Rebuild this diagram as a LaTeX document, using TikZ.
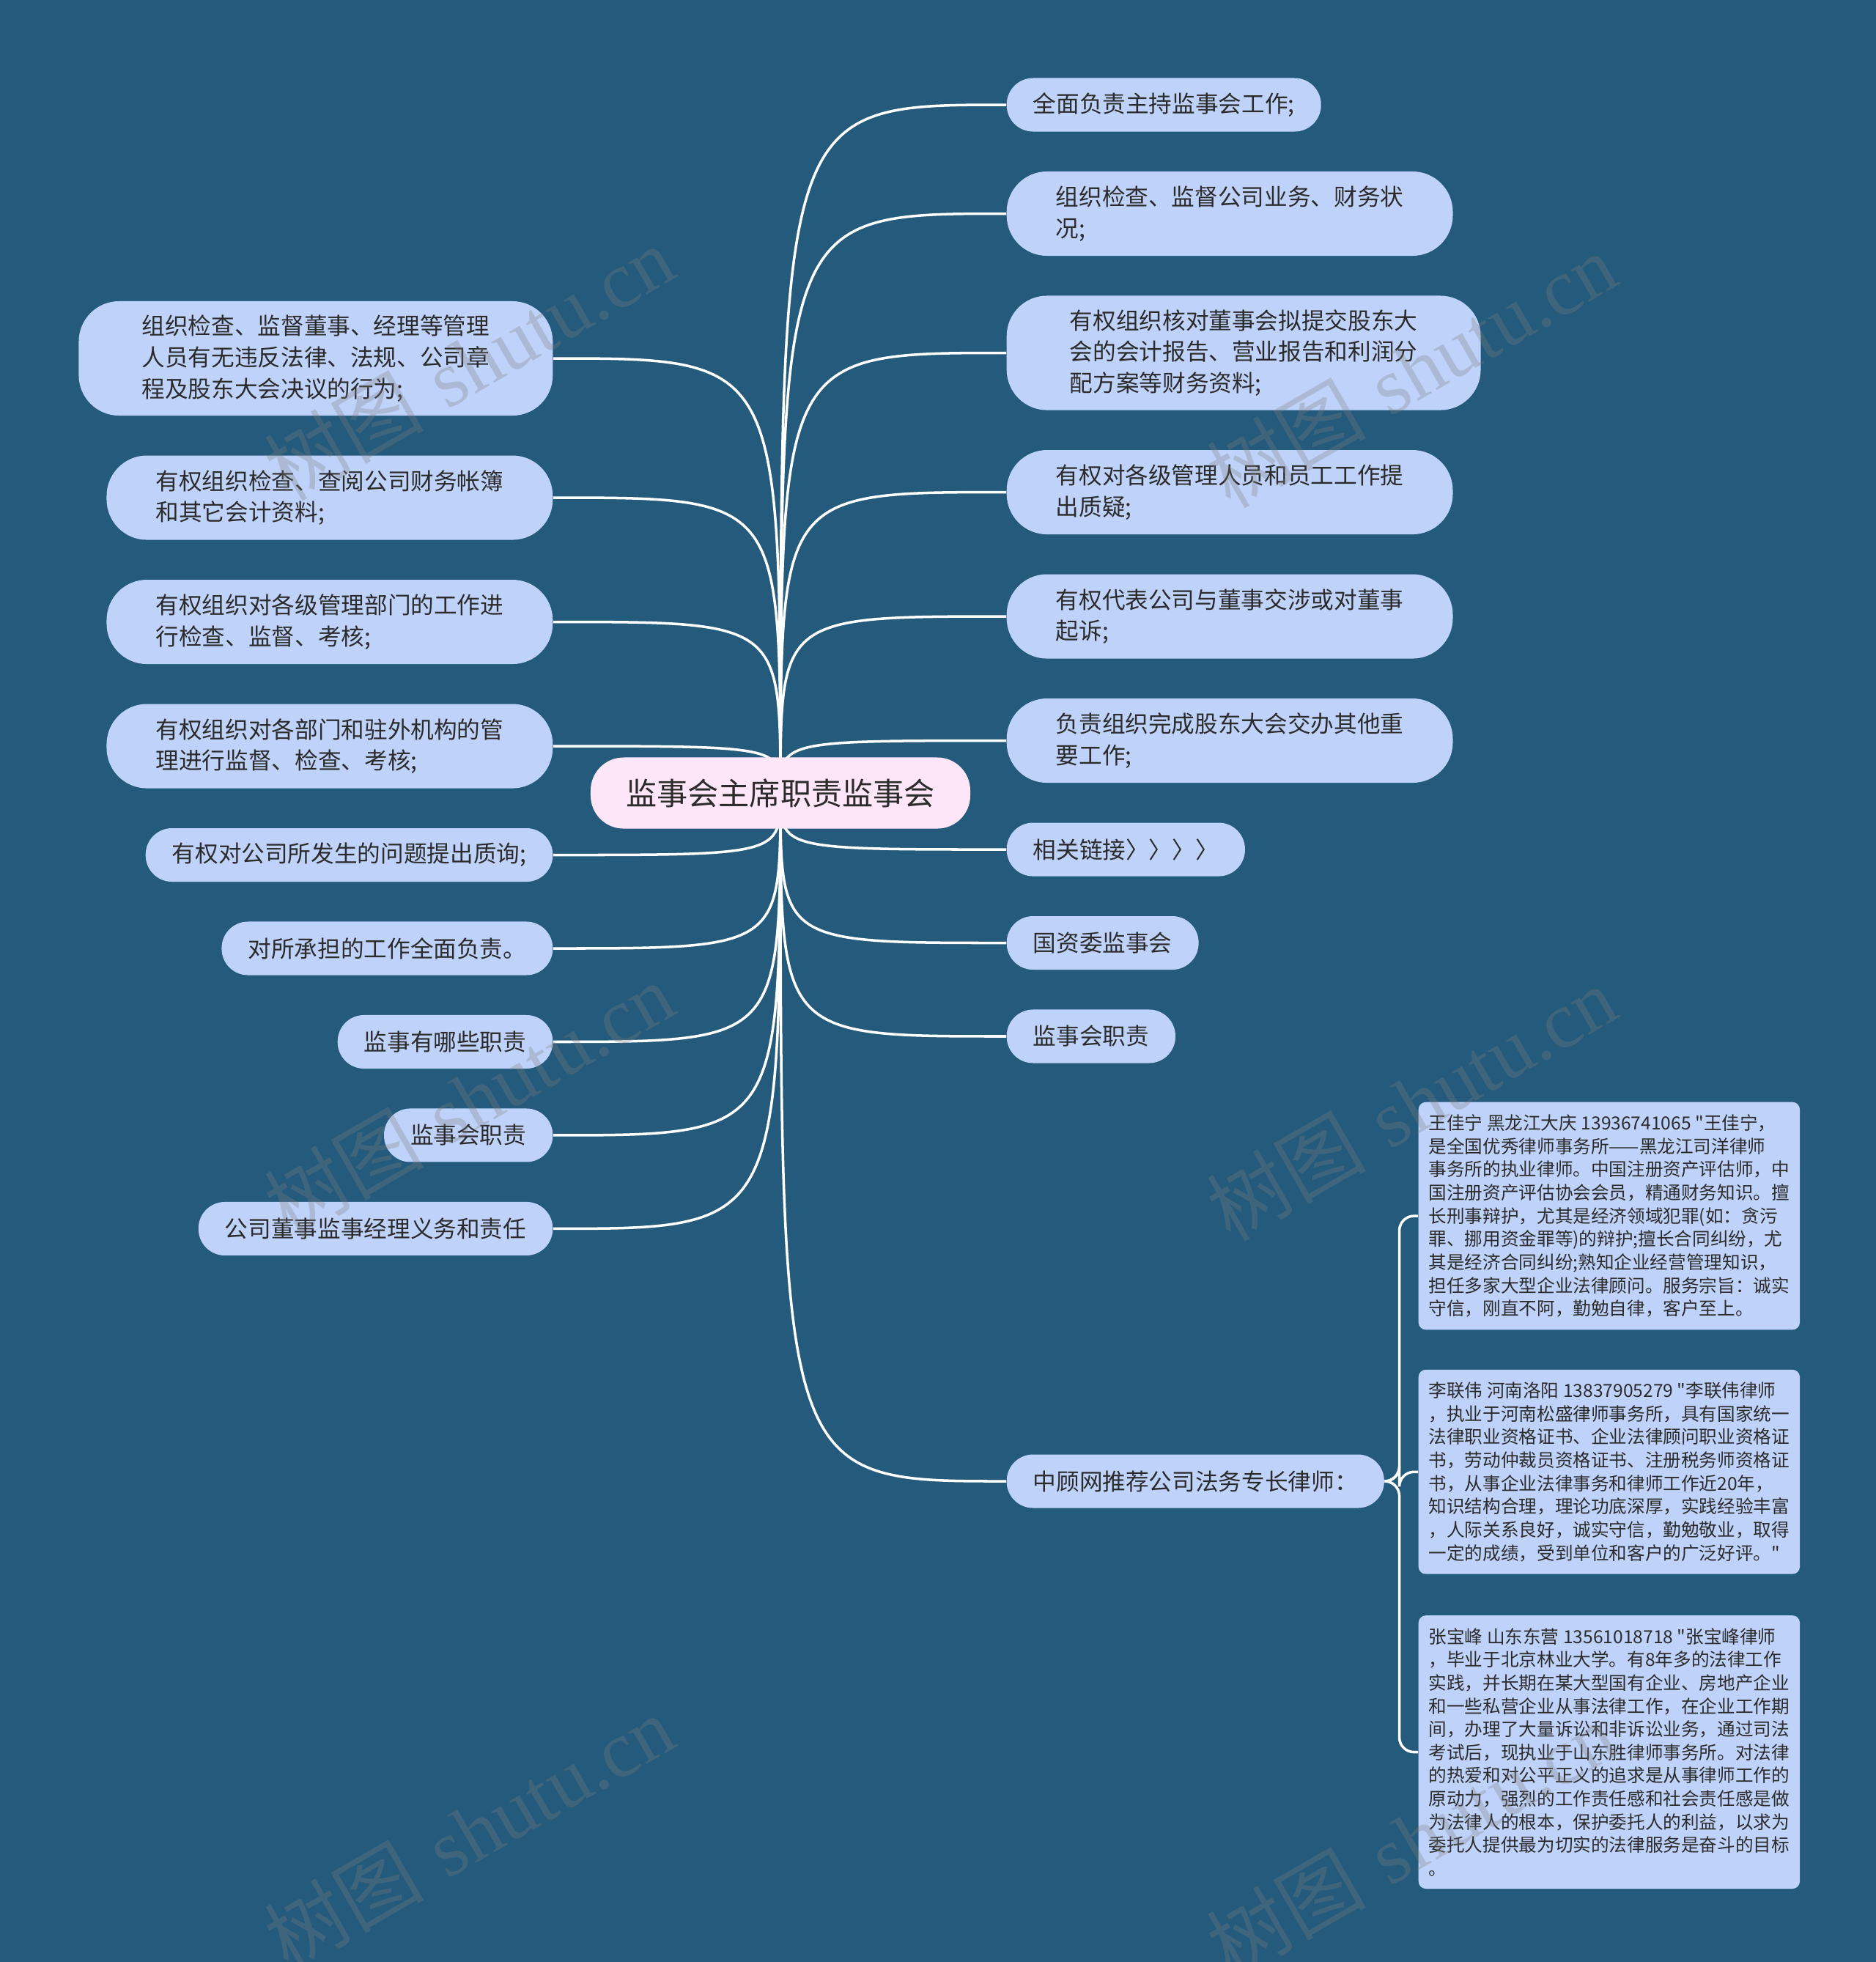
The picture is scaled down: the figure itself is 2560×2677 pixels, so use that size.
\documentclass[tikz,border=0pt]{standalone}
\usepackage{fontspec}
\usepackage{tikz}
\usetikzlibrary{positioning}
\newfontfamily\cjk{Noto Sans CJK SC}
\newfontfamily\wmserif{Liberation Serif}
\definecolor{mapbg}{HTML}{245A7B}
\definecolor{topicblue}{HTML}{BFD3FA}
\definecolor{rootpink}{HTML}{FDE6F7}
\definecolor{inkgray}{HTML}{2B2B2B}
\pgfdeclarelayer{paper}
\pgfdeclarelayer{links}
\pgfsetlayers{paper,links,main}

\begin{document}
\begin{tikzpicture}[
    x=0.01cm, y=-0.01cm,
    root/.style={fill=rootpink, text=inkgray, rounded corners=0.45cm,
                 minimum height=0.97cm, inner xsep=0.48cm,
                 font=\cjk\fontsize{12}{14}\selectfont},
    topic/.style={fill=topicblue, text=inkgray, align=left, inner ysep=0.05cm,
                  font=\cjk\fontsize{9}{12.15}\selectfont},
    oneline/.style={topic, minimum height=0.73cm, inner xsep=0.36cm,
                    rounded corners=0.36cm},
    twoline/.style={topic, minimum height=1.15cm, inner xsep=0.67cm,
                    rounded corners=0.55cm},
    threeline/.style={topic, minimum height=1.56cm, inner xsep=0.86cm,
                      rounded corners=0.55cm},
    lawyer/.style={fill=topicblue, text=inkgray, align=left,
                   rounded corners=0.1cm, minimum width=5.2cm,
                   inner xsep=0.14cm, inner ysep=0.17cm,
                   font=\cjk\fontsize{7}{9}\selectfont},
    link/.style={white, line width=1pt},
    watermark/.style={gray, opacity=0.3, rotate=30,
                      font=\fontsize{31}{31}\selectfont},
]
    % Page
    \begin{pgfonlayer}{paper}
        \fill[mapbg] (0,0) rectangle (2560,2677);
    \end{pgfonlayer}
    \useasboundingbox (0,0) rectangle (2560,2677);

    % Root
    \node[root] (c) at (1065,1082) {监事会主席职责监事会};

    % Right branch
    \node[oneline, anchor=west] (r1) at (1373,143) {全面负责主持监事会工作;};
    \node[twoline, below right=0.53cm and 0cm of r1.south west] (r2)
        {组织检查、监督公司业务、财务状\\况;};
    \node[threeline, below right=0.53cm and 0cm of r2.south west] (r3)
        {有权组织核对董事会拟提交股东大\\会的会计报告、营业报告和利润分\\配方案等财务资料;};
    \node[twoline, below right=0.53cm and 0cm of r3.south west] (r4)
        {有权对各级管理人员和员工工作提\\出质疑;};
    \node[twoline, below right=0.53cm and 0cm of r4.south west] (r5)
        {有权代表公司与董事交涉或对董事\\起诉;};
    \node[twoline, below right=0.53cm and 0cm of r5.south west] (r6)
        {负责组织完成股东大会交办其他重\\要工作;};
    \node[oneline, below right=0.53cm and 0cm of r6.south west] (r7) {相关链接〉〉〉〉};
    \node[oneline, below right=0.53cm and 0cm of r7.south west] (r8) {国资委监事会};
    \node[oneline, below right=0.53cm and 0cm of r8.south west] (r9) {监事会职责};
    \node[oneline, anchor=west] (r10) at (1373,2021) {中顾网推荐公司法务专长律师：};

    % Left branch
    \node[threeline, anchor=east] (l1) at (755,489)
        {组织检查、监督董事、经理等管理\\人员有无违反法律、法规、公司章\\程及股东大会决议的行为;};
    \node[twoline, below left=0.53cm and 0cm of l1.south east] (l2)
        {有权组织检查、查阅公司财务帐簿\\和其它会计资料;};
    \node[twoline, below left=0.53cm and 0cm of l2.south east] (l3)
        {有权组织对各级管理部门的工作进\\行检查、监督、考核;};
    \node[twoline, below left=0.53cm and 0cm of l3.south east] (l4)
        {有权组织对各部门和驻外机构的管\\理进行监督、检查、考核;};
    \node[oneline, below left=0.53cm and 0cm of l4.south east] (l5) {有权对公司所发生的问题提出质询;};
    \node[oneline, below left=0.53cm and 0cm of l5.south east] (l6) {对所承担的工作全面负责。};
    \node[oneline, below left=0.53cm and 0cm of l6.south east] (l7) {监事有哪些职责};
    \node[oneline, below left=0.53cm and 0cm of l7.south east] (l8) {监事会职责};
    \node[oneline, below left=0.53cm and 0cm of l8.south east] (l9) {公司董事监事经理义务和责任};

    % Lawyers
    \node[lawyer, anchor=north west] (b1) at (1935,1503)
        {王佳宁 黑龙江大庆 13936741065 "王佳宁，\\
         是全国优秀律师事务所——黑龙江司洋律师\\
         事务所的执业律师。中国注册资产评估师，中\\
         国注册资产评估协会会员，精通财务知识。擅\\
         长刑事辩护，尤其是经济领域犯罪(如：贪污\\
         罪、挪用资金罪等)的辩护;擅长合同纠纷，尤\\
         其是经济合同纠纷;熟知企业经营管理知识，\\
         担任多家大型企业法律顾问。服务宗旨：诚实\\
         守信，刚直不阿，勤勉自律，客户至上。};
    \node[lawyer, below right=0.53cm and 0cm of b1.south west] (b2)
        {李联伟 河南洛阳 13837905279 "李联伟律师\\
         ，执业于河南松盛律师事务所，具有国家统一\\
         法律职业资格证书、企业法律顾问职业资格证\\
         书，劳动仲裁员资格证书、注册税务师资格证\\
         书，从事企业法律事务和律师工作近20年，\\
         知识结构合理，理论功底深厚，实践经验丰富\\
         ，人际关系良好，诚实守信，勤勉敬业，取得\\
         一定的成绩，受到单位和客户的广泛好评。"};
    \node[lawyer, below right=0.55cm and 0cm of b2.south west] (b3)
        {张宝峰 山东东营 13561018718 "张宝峰律师\\
         ，毕业于北京林业大学。有8年多的法律工作\\
         实践，并长期在某大型国有企业、房地产企业\\
         和一些私营企业从事法律工作，在企业工作期\\
         间，办理了大量诉讼和非诉讼业务，通过司法\\
         考试后，现执业于山东胜律师事务所。对法律\\
         的热爱和对公平正义的追求是从事律师工作的\\
         原动力，强烈的工作责任感和社会责任感是做\\
         为法律人的根本，保护委托人的利益，以求为\\
         委托人提供最为切实的法律服务是奋斗的目标\\
         。};
    \coordinate[right=0.2cm of r10] (fork);

    % Links
    \begin{pgfonlayer}{links}
        \draw[link] (c.center) .. controls (c.center |- r1.west) .. (r1.west);
        \draw[link] (c.center) .. controls (c.center |- r2.west) .. (r2.west);
        \draw[link] (c.center) .. controls (c.center |- r3.west) .. (r3.west);
        \draw[link] (c.center) .. controls (c.center |- r4.west) .. (r4.west);
        \draw[link] (c.center) .. controls (c.center |- r5.west) .. (r5.west);
        \draw[link] (c.center) .. controls (c.center |- r6.west) .. (r6.west);
        \draw[link] (c.center) .. controls (c.center |- r7.west) .. (r7.west);
        \draw[link] (c.center) .. controls (c.center |- r8.west) .. (r8.west);
        \draw[link] (c.center) .. controls (c.center |- r9.west) .. (r9.west);
        \draw[link] (c.center) .. controls (c.center |- r10.west) .. (r10.west);
        \draw[link] (c.center) .. controls (c.center |- l1.east) .. (l1.east);
        \draw[link] (c.center) .. controls (c.center |- l2.east) .. (l2.east);
        \draw[link] (c.center) .. controls (c.center |- l3.east) .. (l3.east);
        \draw[link] (c.center) .. controls (c.center |- l4.east) .. (l4.east);
        \draw[link] (c.center) .. controls (c.center |- l5.east) .. (l5.east);
        \draw[link] (c.center) .. controls (c.center |- l6.east) .. (l6.east);
        \draw[link] (c.center) .. controls (c.center |- l7.east) .. (l7.east);
        \draw[link] (c.center) .. controls (c.center |- l8.east) .. (l8.east);
        \draw[link] (c.center) .. controls (c.center |- l9.east) .. (l9.east);
        \draw[link, rounded corners=0.2cm] (r10.east) -- (fork) |- (b1.west);
        \draw[link, rounded corners=0.2cm] (r10.east) -- (fork) |- (b2.west);
        \draw[link, rounded corners=0.2cm] (r10.east) -- (fork) |- (b3.west);
    \end{pgfonlayer}

    % Watermarks
    \node[watermark] (wm1) at (640,495)   {{\cjk 树图} {\wmserif shutu.cn}};
    \node[watermark] (wm2) at (1926,505)  {{\cjk 树图} {\wmserif shutu.cn}};
    \node[watermark] (wm3) at (640,1500)  {{\cjk 树图} {\wmserif shutu.cn}};
    \node[watermark] (wm4) at (1926,1505) {{\cjk 树图} {\wmserif shutu.cn}};
    \node[watermark] (wm5) at (640,2500)  {{\cjk 树图} {\wmserif shutu.cn}};
    \node[watermark] (wm6) at (1926,2510) {{\cjk 树图} {\wmserif shutu.cn}};
\end{tikzpicture}
\end{document}
